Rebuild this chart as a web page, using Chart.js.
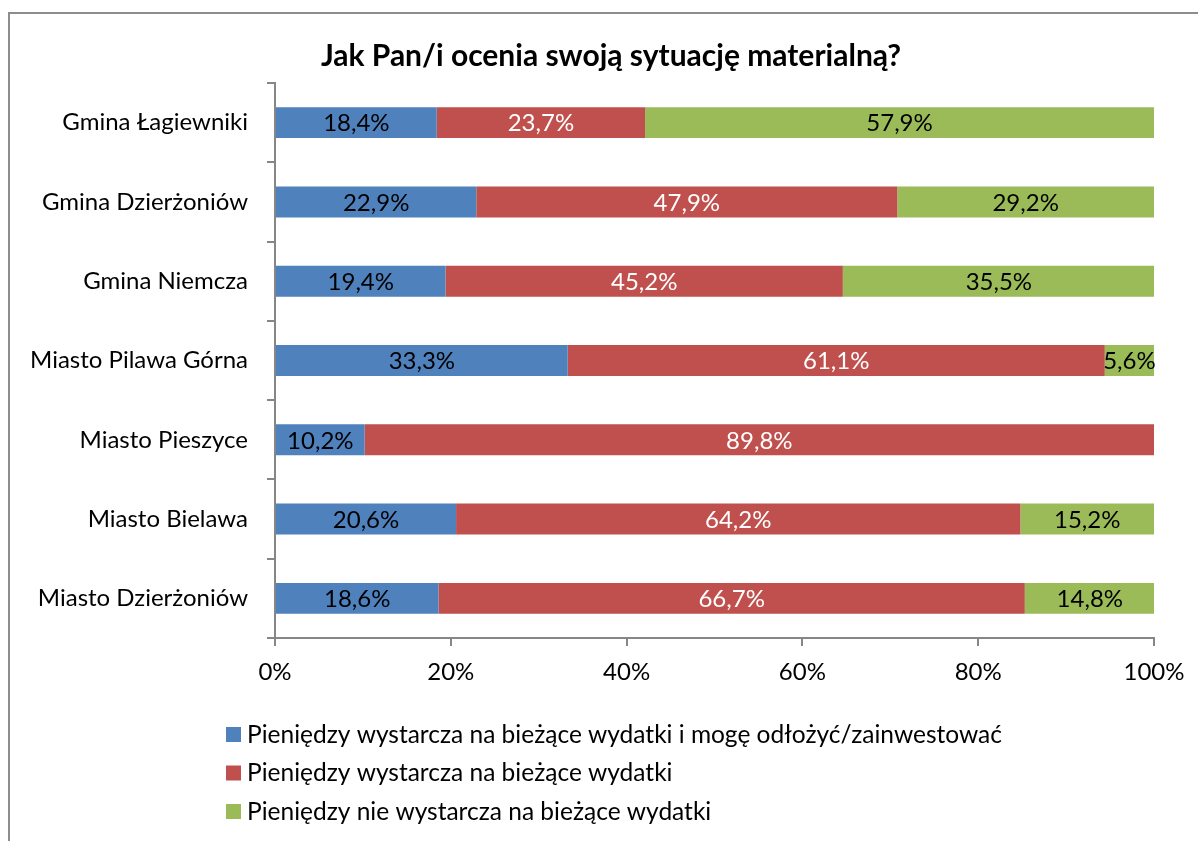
<!DOCTYPE html>
<html>
<head>
<meta charset="utf-8">
<script src="https://cdn.jsdelivr.net/npm/chart.js@4.4.0/dist/chart.umd.min.js"></script>
<style>
  html, body { margin: 0; padding: 0; background: #fff; overflow: hidden; }
  #frame { position: absolute; left: 8px; top: 12px; width: 1400px; height: 1000px;
           border-left: 2px solid #8d8d8d; border-top: 2px solid #8d8d8d; }
  #wrap { position: absolute; left: 0; top: 0; width: 1198px; height: 841px; }
  #title { position: absolute; left: 0; top: 36px; width: 1222px; text-align: center;
           font: bold 30px Lato, 'Open Sans', sans-serif; color: #000; line-height: 36px; }
</style>
</head>
<body>
<div id="frame"></div>
<div id="wrap"><canvas id="chart" width="1198" height="841"></canvas></div>
<div id="title">Jak Pan/i ocenia swoją sytuację materialną?</div>
<script>
// Kategorie (od góry)
const categories = [
    "Gmina Łagiewniki",
    "Gmina Dzierżoniów",
    "Gmina Niemcza",
    "Miasto Pilawa Górna",
    "Miasto Pieszyce",
    "Miasto Bielawa",
    "Miasto Dzierżoniów"
];

const seriesNames = [
    "Pieniędzy wystarcza na bieżące wydatki i mogę odłożyć/zainwestować",
    "Pieniędzy wystarcza na bieżące wydatki",
    "Pieniędzy nie wystarcza na bieżące wydatki"
];

// wartości w %
const canSave = [18.4, 22.9, 19.4, 33.3, 10.2, 20.6, 18.6];
const enough = [23.7, 47.9, 45.2, 61.1, 89.8, 64.2, 66.7];
const notEnough = [57.9, 29.2, 35.5, 5.6, null, 15.2, 14.8];

const xTicks = [0, 20, 40, 60, 80, 100];

const colors = ["#4F81BD", "#C0504D", "#9BBB59"];
const labelColors = ["#000", "#fff", "#000"];
const FONT = "Lato, 'Open Sans', sans-serif";
const AXIS = "#868686";

// Etykiety danych na środku segmentów
const valueLabels = {
    id: "valueLabels",
    afterDatasetsDraw(chart) {
        const ctx = chart.ctx;
        ctx.save();
        ctx.font = "24px " + FONT;
        ctx.textAlign = "center";
        ctx.textBaseline = "middle";
        chart.data.datasets.forEach((ds, i) => {
            const meta = chart.getDatasetMeta(i);
            meta.data.forEach((bar, j) => {
                const v = ds.data[j];
                if (v === null || v === undefined) return;
                ctx.fillStyle = labelColors[i];
                ctx.fillText(v.toFixed(1).replace(".", ",") + "%", (bar.x + bar.base) / 2, bar.y + 1);
            });
        });
        ctx.restore();
    }
};

// Legenda pionowa pod wykresem
const listLegend = {
    id: "listLegend",
    afterDraw(chart) {
        const ctx = chart.ctx;
        ctx.save();
        ctx.font = "24.5px " + FONT;
        ctx.textBaseline = "middle";
        ctx.textAlign = "left";
        chart.data.datasets.forEach((ds, i) => {
            const y = 734 + i * 38.5;
            ctx.fillStyle = ds.backgroundColor;
            ctx.fillRect(226, y - 7, 15, 15);
            ctx.fillStyle = "#000";
            ctx.fillText(ds.label, 247, y + 1);
        });
        ctx.restore();
    }
};

const ctx = document.getElementById("chart").getContext("2d");

const chart = new Chart(ctx, {
    type: "bar",
    data: {
        labels: categories,
        datasets: [
            { label: seriesNames[0], data: canSave, backgroundColor: colors[0] },
            { label: seriesNames[1], data: enough, backgroundColor: colors[1] },
            { label: seriesNames[2], data: notEnough, backgroundColor: colors[2] }
        ]
    },
    options: {
        indexAxis: "y",
        responsive: false,
        animation: false,
        devicePixelRatio: 1,
        barPercentage: 0.39,
        categoryPercentage: 1,
        layout: { padding: { left: 0, right: 44, top: 83, bottom: 150 } },
        plugins: {
            legend: { display: false },
            tooltip: { enabled: false },
            title: { display: false }
        },
        scales: {
            x: {
                stacked: true,
                min: 0,
                max: 100,
                afterBuildTicks: (scale) => { scale.ticks = xTicks.map(v => ({ value: v })); },
                afterFit: (scale) => { scale.height = 53; },
                ticks: {
                    color: "#000",
                    font: { family: FONT, size: 24 },
                    padding: 12,
                    maxRotation: 0,
                    callback: (v) => v + "%"
                },
                grid: { drawOnChartArea: false, drawTicks: true, tickLength: 8, color: AXIS, lineWidth: 2 },
                border: { color: AXIS, width: 2 }
            },
            y: {
                stacked: true,
                afterFit: (scale) => { scale.width = 275; },
                ticks: {
                    color: "#000",
                    font: { family: FONT, size: 24 },
                    padding: 19
                },
                grid: { drawOnChartArea: false, drawTicks: true, tickLength: 8, color: AXIS, lineWidth: 2, offset: true },
                border: { color: AXIS, width: 2 }
            }
        }
    },
    plugins: [valueLabels, listLegend]
});
</script>
</body>
</html>
